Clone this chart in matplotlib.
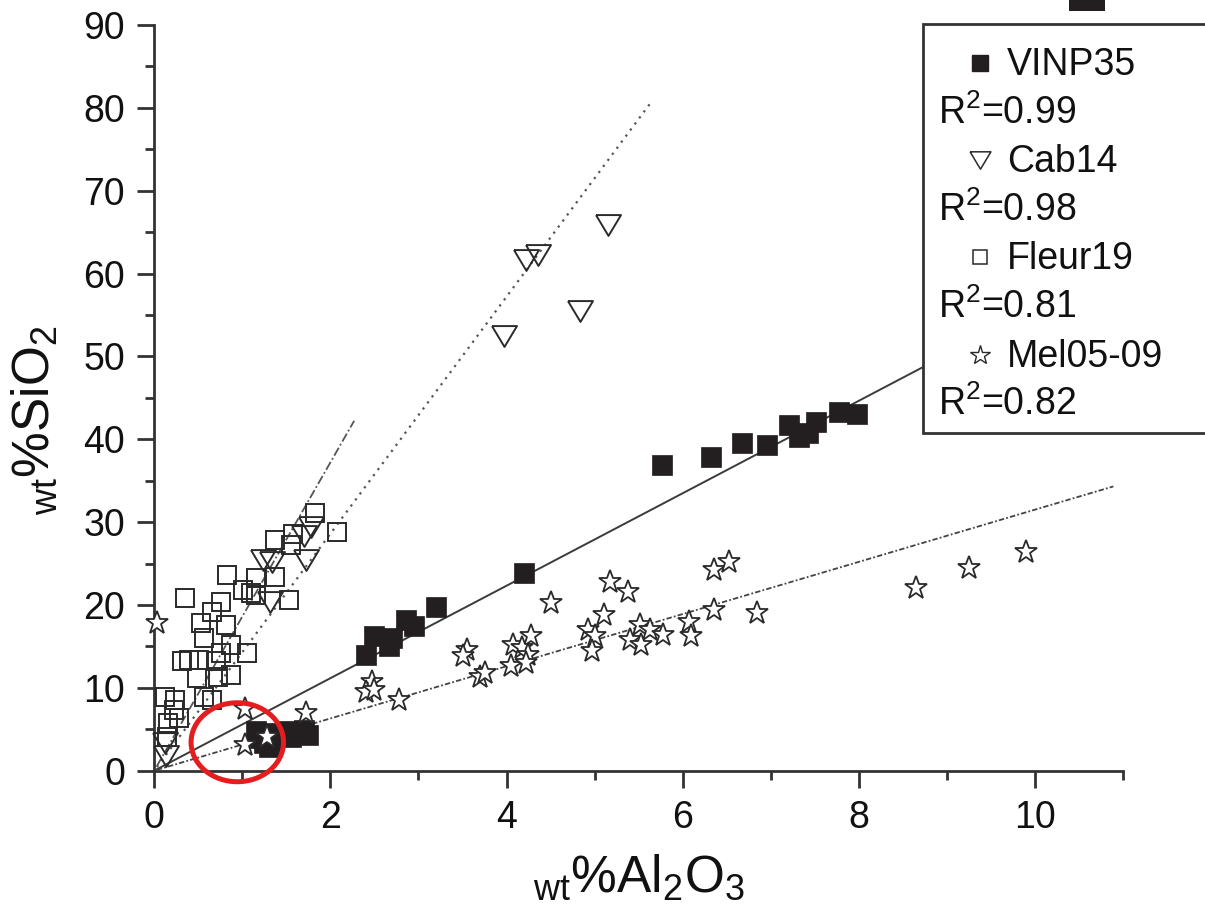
import matplotlib
matplotlib.use("Agg")
import matplotlib.pyplot as plt
from matplotlib.patches import Ellipse, Rectangle
from matplotlib.ticker import MultipleLocator
from matplotlib.lines import Line2D

plt.rcParams['font.family'] = ['Liberation Sans', 'DejaVu Sans']
plt.rcParams['mathtext.fontset'] = 'custom'
plt.rcParams['mathtext.rm'] = 'Liberation Sans'
plt.rcParams['mathtext.it'] = 'Liberation Sans:italic'
plt.rcParams['mathtext.bf'] = 'Liberation Sans:bold'

# --- data (wt% Al2O3, wt% SiO2) ---
vinp_al = [1.15, 1.2, 1.25, 1.3, 1.3, 1.35, 1.45, 1.5, 1.55, 1.6, 1.7, 1.75,
           2.41, 2.49, 2.70, 2.66, 2.86, 2.95, 3.20, 4.20,
           5.76, 6.32, 6.67, 6.96, 7.21, 7.32, 7.42, 7.51, 7.78, 7.98]
vinp_si = [4.8, 4.0, 3.3, 2.9, 4.6, 3.6, 4.3, 4.8, 4.1, 4.6, 4.9, 4.3,
           14.0, 16.2, 16.0, 15.1, 18.2, 17.5, 19.8, 23.9,
           36.9, 37.8, 39.6, 39.3, 41.7, 40.3, 40.7, 42.1, 43.3, 43.1]

cab_al = [0.12, 0.13, 1.24, 1.34, 1.32, 1.72, 1.78, 1.70,
          3.97, 4.22, 4.36, 4.83, 5.15]
cab_si = [3.3, 1.8, 25.4, 25.2, 20.4, 25.4, 29.4, 28.3,
          52.4, 61.6, 62.2, 55.5, 65.8]

fleur_al = [1.83, 2.07, 1.37, 1.57, 1.55, 0.83, 1.16, 1.37, 1.01, 1.16, 1.53,
            0.35, 0.76, 0.66, 0.82, 0.53, 0.57, 0.87, 0.76, 1.05, 0.32, 0.39,
            0.51, 0.70, 0.49, 0.72, 0.87, 0.57, 0.66, 0.12, 0.24, 0.22, 0.16,
            0.14, 0.28, 1.10]
fleur_si = [31.1, 28.8, 27.8, 28.6, 27.2, 23.6, 23.2, 23.4, 21.8, 21.2, 20.6,
            20.8, 20.4, 19.2, 17.6, 17.8, 16.0, 15.2, 14.2, 14.2, 13.2, 13.3,
            13.3, 13.2, 11.2, 11.3, 11.5, 8.9, 8.5, 8.9, 8.5, 7.3, 5.7,
            4.1, 6.3, 21.4]

mel_al = [0.03, 1.03, 1.72, 1.03, 1.28, 2.47, 2.40, 2.50, 2.78, 3.55, 3.51,
          3.70, 3.76, 4.07, 4.28, 4.18, 4.24, 4.05, 4.22, 4.51, 5.17, 5.38,
          5.11, 4.92, 5.01, 4.97, 5.51, 5.63, 5.40, 5.53, 5.78, 6.07, 6.09,
          6.36, 6.84, 6.36, 6.53, 8.65, 9.25, 9.90]
mel_si = [17.8, 7.5, 6.9, 3.1, 4.1, 10.7, 9.5, 9.7, 8.5, 14.6, 13.8,
          11.3, 11.8, 15.2, 16.2, 14.8, 14.0, 12.6, 13.0, 20.2, 22.8, 21.6,
          18.8, 17.0, 16.2, 14.4, 17.6, 17.0, 15.8, 15.2, 16.4, 18.0, 16.2,
          19.4, 19.0, 24.2, 25.2, 22.0, 24.4, 26.4]

# regression lines through the origin: slope and x extent
fit_names = ['VINP35', 'Cab14', 'Fleur19', 'Mel05-09']
fit_slope = [5.58, 14.3, 18.6, 3.15]
fit_xend = [8.78, 5.64, 2.27, 10.89]
r2_values = ['0.99', '0.98', '0.81', '0.82']

ink = '#231f20'
fig = plt.figure(figsize=(12.05, 9.13), dpi=100)
ax = fig.add_axes([0.128, 0.1559, 0.804, 0.8168])

line_styles = [dict(ls='-', lw=1.4, color='#3a3a3a'),
               dict(ls=(0, (1, 2.4)), lw=1.6, color='#555555'),
               dict(ls=(0, (5, 1.5, 1, 1.5)), lw=1.3, color='#555555'),
               dict(ls=(0, (3, 1.2, 1, 1.2)), lw=1.3, color='#444444')]
for s, xe, st in zip(fit_slope, fit_xend, line_styles):
    ax.plot([0.03, xe], [0.03 * s, xe * s], zorder=2, **st)

ax.plot(fleur_al, fleur_si, ls='none', marker='s', ms=12.5, mfc='none',
        mec='#2a2a2a', mew=1.4, zorder=3, clip_on=False)
tri = [(-1.2, 1), (1.2, 1), (0, -1), (-1.2, 1)]
ax.plot(cab_al, cab_si, ls='none', marker=tri, ms=18, mfc='none',
        mec='#2a2a2a', mew=1.4, zorder=3, clip_on=False)
ax.plot(vinp_al, vinp_si, ls='none', marker='s', ms=14, mfc=ink,
        mec=ink, mew=0.5, zorder=4, clip_on=False)
ax.plot(mel_al, mel_si, ls='none', marker='*', ms=17, mfc='white',
        mec='#2a2a2a', mew=1.3, zorder=5, clip_on=False)

# highlighted cluster
ax.add_patch(Ellipse((0.943, 3.43), 1.05, 9.53, fill=False, ec='#e41e1e',
                     lw=3.6, zorder=6, clip_on=False))

ax.set_xlim(0, 11)
ax.set_ylim(0, 90)
ax.xaxis.set_major_locator(MultipleLocator(2))
ax.xaxis.set_minor_locator(MultipleLocator(1))
ax.yaxis.set_major_locator(MultipleLocator(10))
ax.yaxis.set_minor_locator(MultipleLocator(5))
for side in ['top', 'right']:
    ax.spines[side].set_visible(False)
for side in ['left', 'bottom']:
    ax.spines[side].set_linewidth(2)
    ax.spines[side].set_color('#333333')
ax.tick_params(which='major', length=12, width=2, color='#333333',
               labelsize=27, labelcolor='#111111')
ax.tick_params(which='minor', length=6.5, width=2, color='#333333')
ax.tick_params(axis='x', which='major', pad=9)
ax.tick_params(axis='y', which='major', pad=9)

ax.set_xlabel(r'$_{\mathrm{wt}}$%Al$_2$O$_3$', fontsize=37, color='#111111',
              labelpad=12)
ax.set_ylabel(r'$_{\mathrm{wt}}$%SiO$_2$', fontsize=37, color='#111111',
              labelpad=6)
ax.yaxis.set_label_coords(-0.098, 0.47)

# legend box (runs off the right edge as in the source figure)
W, H = 1205.0, 913.0
fig.patches.append(Rectangle((922.7 / W, 1 - 433 / H), 0.3, (433 - 24) / H,
                             transform=fig.transFigure, fc='white',
                             ec='#333333', lw=2, zorder=10))
fig.patches.append(Rectangle((1069 / W, 1 - 11 / H), 36 / W, 0.03,
                             transform=fig.transFigure, fc=ink, ec='none',
                             zorder=10))
leg_markers = [dict(marker='s', ms=12, mfc=ink, mec=ink),
               dict(marker=tri, ms=15, mfc='none', mec='#2a2a2a', mew=1.1),
               dict(marker='s', ms=10, mfc='none', mec='#2a2a2a', mew=1.1),
               dict(marker='*', ms=15, mfc='white', mec='#2a2a2a', mew=1.0)]
row = 48.6
for i, (name, r2, mk) in enumerate(zip(fit_names, r2_values, leg_markers)):
    base = 75 + 2 * i * row
    fig.text(1007 / W, 1 - base / H, name, fontsize=27, va='baseline',
             ha='left', color='#111111', zorder=11)
    fig.add_artist(Line2D([980 / W], [1 - (base - 12) / H], ls='none',
                          transform=fig.transFigure, zorder=11, **mk))
    fig.text(938 / W, 1 - (base + row) / H, 'R$^{2}$=' + r2, fontsize=27,
             va='baseline', ha='left', color='#111111', zorder=11)

fig.savefig('out.png', dpi=100)
